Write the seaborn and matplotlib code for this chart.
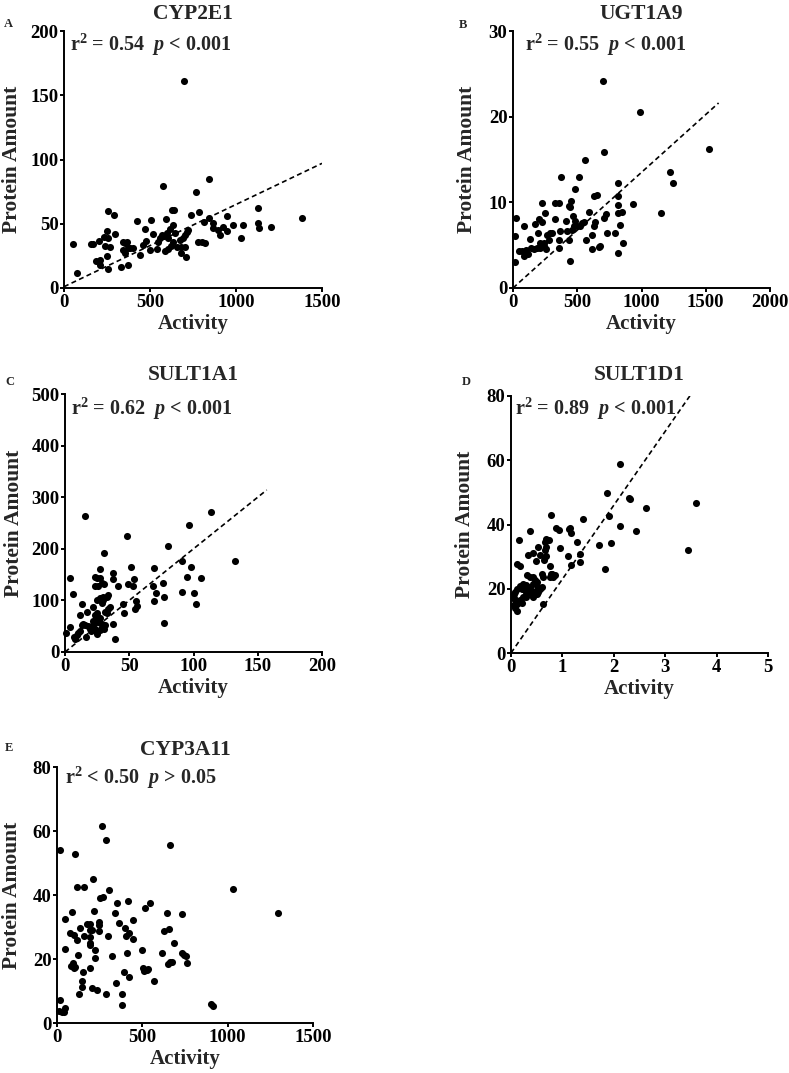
import matplotlib
matplotlib.use("Agg")
import matplotlib.pyplot as plt
import seaborn as sns
import pandas as pd
import numpy as np

# (activity, protein amount)
cyp2e1 = [(50, 34), (74, 11.4), (574, 79), (258, 60), (293, 57), (422, 52), (506, 53), (591, 54),
          (626, 61), (640, 61), (765, 74.5), (740, 57), (785, 59.5), (157, 34), (171, 34), (202, 36.6),
          (234, 39.4), (248, 44), (258, 38.6), (267, 31.6), (296, 42), (184, 21), (209, 22), (209, 17.9),
          (240, 32.7), (248, 25), (258, 14.5), (341, 36), (355, 34.8), (364, 36), (345, 29.6), (355, 27),
          (372, 30.9), (386, 30.9), (403, 31), (333, 16.6), (372, 17.9), (442, 26), (457, 33.5), (471, 45.7),
          (475, 36.6), (500, 29.6), (519, 42), (539, 30), (548, 36), (558, 39), (568, 41), (583, 40.5),
          (597, 43), (607, 38.6), (616, 46), (620, 32.7), (632, 49), (636, 36), (645, 42.5), (655, 31.6),
          (587, 29), (607, 30), (674, 37.4), (694, 39), (703, 41), (713, 43.7), (723, 45), (682, 31.6),
          (701, 31.6), (682, 27), (711, 24), (699, 161), (845, 85), (781, 36), (800, 36), (820, 35),
          (816, 51), (845, 54.4), (868, 50.5), (868, 46.6), (898, 45), (907, 41.5), (923, 47.4), (946, 56),
          (946, 44), (981, 49), (1039, 48.7), (1028, 38.9), (1127, 62), (1127, 50.5), (1131, 46.6),
          (1203, 47.4), (1383, 54.4)]

ugt1a9 = [(18, 3.0), (18, 6.1), (26, 8.2), (44, 4.3), (70, 4.3), (104, 4.4), (83, 7.2), (83, 3.7),
          (114, 4.0), (140, 4.7), (161, 4.5), (187, 4.7), (212, 4.7), (238, 4.9), (135, 5.7), (174, 7.5),
          (192, 6.4), (199, 8.1), (212, 5.2), (238, 5.2), (225, 7.7), (225, 9.9), (251, 8.7), (259, 4.5),
          (264, 6.2), (277, 5.6), (290, 6.4), (303, 6.4), (329, 8.0), (329, 9.9), (355, 9.9), (355, 5.6),
          (355, 4.7), (368, 6.6), (414, 7.8), (373, 13), (420, 6.6), (433, 5.6), (440, 3.2), (445, 9.5),
          (433, 9.6), (451, 10.1), (458, 6.8), (471, 7.2), (484, 7.8), (466, 8.4), (484, 11.5), (497, 7.2),
          (523, 7.2), (536, 7.6), (549, 7.7), (510, 13), (570, 5.6), (588, 8.9), (614, 4.5), (614, 6.2),
          (627, 10.7), (653, 10.8), (640, 7.7), (632, 7.2), (666, 4.8), (679, 4.9), (705, 8.2), (725, 8.6),
          (731, 6.4), (795, 6.4), (821, 12.3), (821, 10.7), (821, 9.7), (821, 8.7), (834, 7.3), (821, 4.1),
          (847, 8.9), (855, 5.2), (933, 9.8), (1150, 8.7), (1218, 13.5), (1249, 12.3), (1528, 16.2),
          (699, 24.2), (990, 20.5), (705, 15.9), (557, 14.9)]

sult1a1 = [(15.5, 264), (3.9, 143), (6.5, 112), (0.5, 36), (3.9, 49), (13, 93), (11.7, 71), (17, 78),
           (16, 29), (7, 29), (9, 32), (10.4, 36), (13, 52), (14.2, 55), (15.5, 52), (19.4, 45), (20.7, 49),
           (22, 88), (23.3, 146), (24.6, 143), (27.2, 143), (27, 160), (23.3, 127), (26, 128), (30.3, 192),
           (30.3, 132), (28.5, 133), (24.6, 101), (27, 104), (29.8, 107), (32.4, 107), (28.5, 94), (29.8, 101),
           (33.7, 110), (23.3, 71), (24.6, 75), (26, 68), (27, 65), (28.5, 55), (22, 52), (23.3, 45),
           (24.6, 39), (27, 42), (28.5, 49), (29.8, 49), (31, 52), (31, 78), (32.4, 75), (33.7, 84), (35, 88),
           (37.6, 154), (37, 141), (37.6, 55), (39, 26), (41.5, 128), (45.4, 93), (45.9, 75), (48, 225),
           (49, 132), (51, 164), (53, 127), (53.6, 142), (55, 99), (54.4, 84), (55.7, 89), (68.7, 128),
           (69, 162), (71, 114), (69, 99), (76, 134), (77, 106), (77.3, 56), (80, 205), (91, 177), (91, 116),
           (94.6, 146), (96.7, 246), (97.7, 164), (100, 114), (102, 93), (105.7, 143), (114, 272), (132, 177),
           (20, 40), (25, 35), (22, 60), (18, 50), (26, 58), (12, 40), (8, 26), (30, 45)]

sult1d1 = [(2.13, 58.9), (1.87, 49.9), (2.30, 48.3), (2.32, 47.8), (2.63, 45.1), (3.59, 46.7), (3.45, 32.2),
           (2.43, 37.9), (2.13, 39.4), (1.90, 42.8), (1.94, 34.3), (1.72, 33.5), (1.82, 26), (1.41, 41.6),
           (1.34, 30.7), (1.34, 28.3), (1.29, 34.5), (1.15, 39), (1.16, 37.4), (1.12, 38.5), (1.16, 27.5),
           (1.10, 30.1), (0.95, 32.8), (0.94, 38.4), (0.88, 39), (0.77, 42.9), (0.68, 35.6), (0.73, 35.1),
           (0.66, 34.6), (0.69, 33), (0.67, 32), (0.53, 33), (0.75, 27), (0.69, 30.1), (0.64, 28.9),
           (0.56, 30.4), (0.49, 28.7), (0.42, 31), (0.34, 30.4), (0.36, 38), (0.16, 35.3), (0.12, 27.8),
           (0.18, 27.1), (0.78, 24.7), (0.82, 23.7), (0.80, 24.5), (0.75, 23.7), (0.85, 24.2), (0.60, 24.7),
           (0.63, 23.7), (0.62, 15.1), (0.32, 24.2), (0.37, 23.7), (0.43, 23.7), (0.47, 22.7), (0.24, 21.6),
           (0.30, 21.1), (0.37, 20.6), (0.43, 21.6), (0.50, 22.2), (0.53, 20.6), (0.60, 20.6), (0.18, 21),
           (0.21, 20), (0.27, 19.6), (0.30, 18.5), (0.34, 19), (0.40, 19.4), (0.47, 18.5), (0.50, 19.6),
           (0.11, 20), (0.08, 19), (0.05, 18.5), (0.05, 17), (0.08, 16.5), (0.11, 15.4), (0.05, 14.9),
           (0.08, 13.9), (0.11, 13.1), (0.18, 16.5), (0.21, 15.6), (0.24, 17.5), (0.30, 17.5), (0.40, 18),
           (0.43, 17.5), (0.50, 18.3), (0.53, 19), (0.56, 20)]

cyp3a11 = [(19, 54.2), (107, 52.8), (263, 61.5), (288, 57.1), (662, 55.6), (1033, 41.8), (1296, 34.5),
           (19, 7.3), (14, 3.6), (29, 3.3), (39, 3.3), (49, 4.7), (49, 23), (49, 32.4), (88, 34.8), (78, 28),
           (101, 27.5), (117, 26), (117, 42.6), (160, 42.4), (136, 29.6), (121, 21.2), (94, 18.9), (84, 17.9),
           (97, 17.1), (107, 17.5), (152, 16), (146, 13), (146, 11.2), (131, 9.1), (156, 27.2), (175, 31),
           (191, 31), (195, 29), (195, 27), (195, 24.9), (195, 24.4), (204, 29), (210, 44.9), (218, 35.1),
           (220, 22.9), (224, 20.3), (191, 17.2), (204, 10.9), (234, 10.4), (244, 31.7), (249, 30.6),
           (249, 28.6), (253, 39), (269, 39.5), (302, 41.6), (298, 27.2), (286, 9), (325, 21), (351, 37.4),
           (337, 34.5), (364, 31.4), (345, 12.5), (380, 9), (380, 5.7), (399, 29.6), (405, 27.2), (394, 15.8),
           (415, 38), (419, 28), (409, 21.8), (423, 14.5), (444, 32.2), (448, 26.2), (497, 22.9), (503, 17.1),
           (511, 16.1), (526, 16.6), (536, 16.8), (516, 35.8), (545, 37.6), (569, 13), (617, 21.8),
           (629, 28.6), (643, 34.5), (659, 29.3), (649, 18.5), (662, 19.2), (672, 19.2), (686, 25.1),
           (731, 34.1), (731, 21.8), (744, 21.3), (756, 20.8), (760, 18.7), (905, 5.8), (915, 5.4)]

titles = ["CYP2E1", "UGT1A9", "SULT1A1", "SULT1D1", "CYP3A11"]
letters = ["A", "B", "C", "D", "E"]
stats = [r"r$^{2}$ = 0.54  $p$ < 0.001", r"r$^{2}$ = 0.55  $p$ < 0.001",
         r"r$^{2}$ = 0.62  $p$ < 0.001", r"r$^{2}$ = 0.89  $p$ < 0.001",
         r"r$^{2}$ < 0.50  $p$ > 0.05"]
# dashed fit line: slope, intercept, x end (None = no line)
fits = [(0.064, 1.0, 1500), (0.0135, 0.0, 1600), (2.0, 0.0, 157), (23.0, 0.0, 3.48), None]
xmax = [1500, 2000, 200, 5, 1500]
xstep = [500, 500, 50, 1, 500]
ymax = [200, 30, 500, 80, 80]
ystep = [50, 10, 100, 20, 20]

sns.set_style("ticks")
plt.rcParams['font.family'] = ['Liberation Serif', 'DejaVu Serif']
plt.rcParams['font.weight'] = 'bold'
plt.rcParams['mathtext.fontset'] = 'custom'
plt.rcParams['mathtext.rm'] = 'Liberation Serif:bold'
plt.rcParams['mathtext.it'] = 'Liberation Serif:italic:bold'
plt.rcParams['mathtext.bf'] = 'Liberation Serif:bold'

fig = plt.figure(figsize=(7.89, 10.73), dpi=100)
W, H = 789, 1073
# axes boxes in pixels: left, top, width, height
boxes = [(64, 31, 258, 257), (513, 31, 257, 257), (65, 394, 257, 258), (511, 396, 257, 257), (57, 767, 256, 256)]
ylab_x = [-0.20, -0.18, -0.20, -0.18, -0.176]
stat_pos = [(0.023, 0.945), (0.047, 0.945), (0.023, 0.942), (0.016, 0.949), (0.031, 0.957)]
title_pad = [8.6, 8.6, 10, 11.5, 8.6]
letter_pos = [(4, 24), (459, 25), (5, 382), (462, 382), (5, 748)]

datasets = [cyp2e1, ugt1a9, sult1a1, sult1d1, cyp3a11]
for i, data in enumerate(datasets):
    l, t, w, h = boxes[i]
    ax = fig.add_axes([l / W, 1 - (t + h) / H, w / W, h / H])
    df = pd.DataFrame(data, columns=["Activity", "Protein Amount"])
    sns.scatterplot(data=df, x="Activity", y="Protein Amount", ax=ax, color="black",
                    s=26, linewidth=0, clip_on=False, zorder=3)
    if fits[i] is not None:
        slope, icpt, xe = fits[i]
        lx = np.array([0, xe])
        sns.lineplot(x=lx, y=icpt + slope * lx, ax=ax, color="black", linewidth=1.2,
                     linestyle=(0, (3, 2)), zorder=2)
    ax.set_xlim(0, xmax[i])
    ax.set_ylim(0, ymax[i])
    ax.set_xticks(np.arange(0, xmax[i] + xstep[i] * 0.5, xstep[i]))
    ax.set_yticks(np.arange(0, ymax[i] + ystep[i] * 0.5, ystep[i]))
    sns.despine(ax=ax)
    for s in ["left", "bottom"]:
        ax.spines[s].set_linewidth(1.4)
        ax.spines[s].set_color("black")
    ax.tick_params(width=1.4, length=3, pad=1, labelsize=13.5, colors="black")
    for lab in ax.get_xticklabels() + ax.get_yticklabels():
        lab.set_fontweight("bold")
    ax.set_xlabel("Activity", fontsize=15, fontweight="bold")
    ax.set_ylabel("Protein Amount", fontsize=15.5, fontweight="bold")
    ax.xaxis.set_label_coords(0.5, -0.14)
    ax.xaxis.label.set_va("center")
    ax.yaxis.set_label_coords(ylab_x[i], 0.5)
    ax.yaxis.label.set_va("center")
    ax.set_title(titles[i], fontsize=15.5, fontweight="bold", pad=title_pad[i])
    ax.text(stat_pos[i][0], stat_pos[i][1], stats[i], transform=ax.transAxes,
            fontsize=14.5, fontweight="bold", va="center", ha="left")
    lx_, ly_ = letter_pos[i]
    fig.text(lx_ / W, 1 - ly_ / H, letters[i], fontsize=9, fontweight="bold", va="center", ha="left")

fig.savefig("out.png", dpi=100)
